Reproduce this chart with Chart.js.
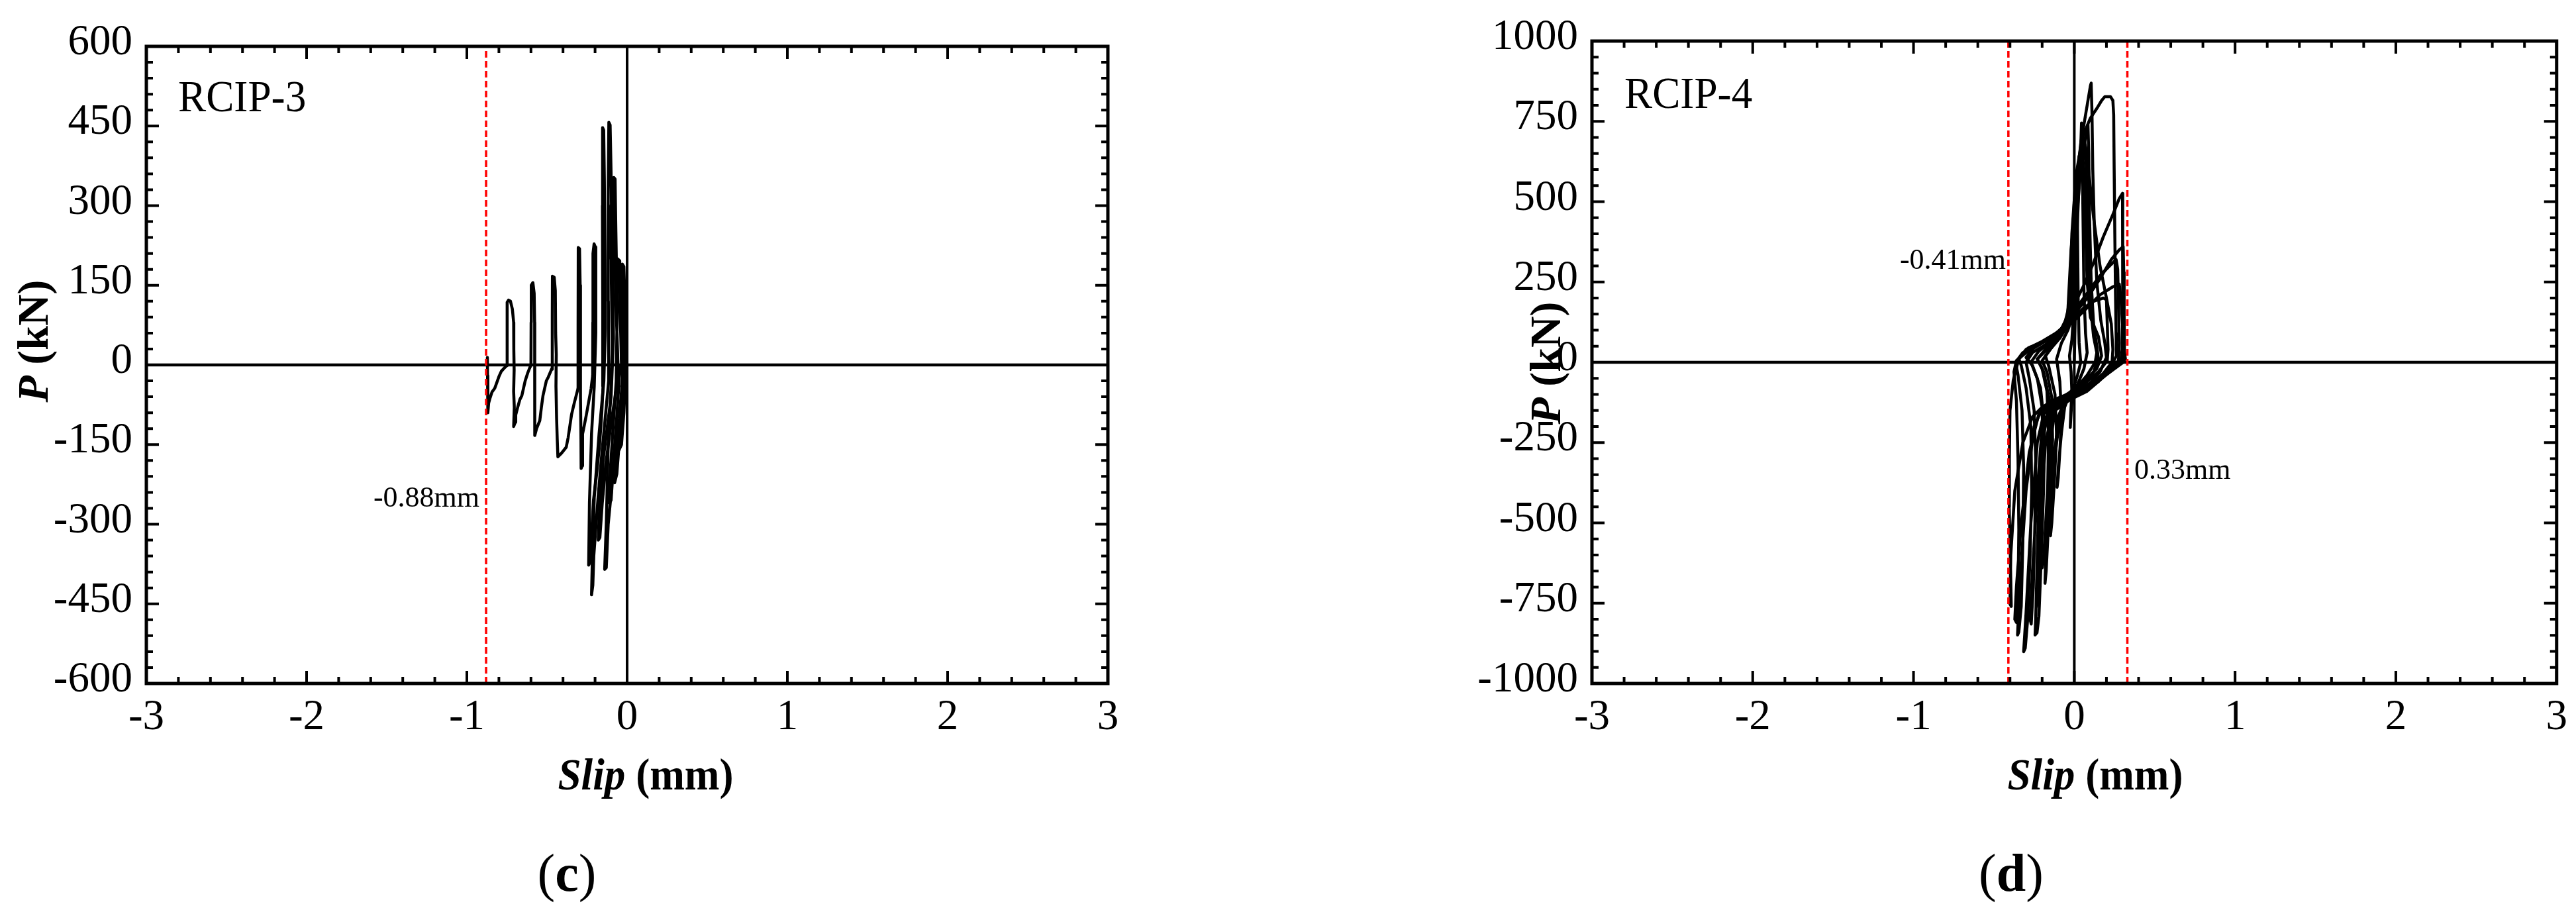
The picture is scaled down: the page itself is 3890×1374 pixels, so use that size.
<!DOCTYPE html>
<html><head><meta charset="utf-8">
<script src="https://cdn.jsdelivr.net/npm/chart.js@4.4.1/dist/chart.umd.min.js"></script>
<style>
html,body{margin:0;padding:0;background:#fff;width:3890px;height:1374px;overflow:hidden}
canvas{position:absolute;top:0}
#c3{left:0}
#c4{left:1945px}
</style></head><body>
<canvas id="c3" width="1945" height="1374"></canvas>
<canvas id="c4" width="1945" height="1374"></canvas>
<script>
// ---------- tick labels ----------
const xTicks = [-3, -2, -1, 0, 1, 2, 3];
const yTicks3 = [-600, -450, -300, -150, 0, 150, 300, 450, 600];
const yTicks4 = [-1000, -750, -500, -250, 0, 250, 500, 750, 1000];

// ---------- limit slips (red dashed lines) ----------
const limits3 = [-0.88];
const limits4 = [-0.41, 0.33];
const limitLabels3 = ['-0.88mm'];
const limitLabels4 = ['-0.41mm', '0.33mm'];

// ---------- RCIP-3 : slip (mm), load (kN) per cycle ----------
const r3c1 = [[-0.872,0],[-0.872,14],[-0.871,-20],[-0.869,-90],[-0.864,-72],[-0.855,-62],[-0.843,-51],[-0.826,-44],[-0.814,-34],[-0.800,-22],[-0.785,-12],[-0.764,-5],[-0.750,-1]];
const r3c2 = [[-0.750,-1],[-0.749,60],[-0.748,118],[-0.740,122],[-0.728,120],[-0.716,105],[-0.708,80],[-0.707,30],[-0.705,-10],[-0.708,-50],[-0.704,-80],[-0.708,-116],[-0.698,-108],[-0.695,-94],[-0.683,-80],[-0.669,-65],[-0.657,-58],[-0.636,-30],[-0.620,-15],[-0.607,-5]];
const r3c3 = [[-0.607,-5],[-0.600,0],[-0.599,80],[-0.598,150],[-0.588,155],[-0.580,135],[-0.577,80],[-0.576,20],[-0.578,-40],[-0.575,-90],[-0.576,-133],[-0.565,-120],[-0.545,-105],[-0.535,-80],[-0.525,-58],[-0.504,-30],[-0.492,-23],[-0.471,-8]];
const r3c4 = [[-0.471,-8],[-0.467,0],[-0.467,90],[-0.466,167],[-0.455,165],[-0.448,140],[-0.446,60],[-0.442,20],[-0.444,-40],[-0.440,-100],[-0.436,-140],[-0.432,-173],[-0.409,-166],[-0.380,-155],[-0.368,-137],[-0.347,-94],[-0.330,-72],[-0.318,-58],[-0.306,-44]];
const r3c5 = [[-0.306,-44],[-0.306,60],[-0.305,221],[-0.297,219],[-0.293,150],[-0.292,50],[-0.290,-60],[-0.288,-140],[-0.287,-195],[-0.280,-190],[-0.278,-130],[-0.268,-115],[-0.255,-95],[-0.240,-70],[-0.225,-45],[-0.215,-20]];
const r3c6 = [[-0.215,-20],[-0.214,80],[-0.213,210],[-0.206,228],[-0.198,222],[-0.196,150],[-0.195,60],[-0.205,-40],[-0.222,-130],[-0.235,-260],[-0.240,-377],[-0.232,-372],[-0.222,-320],[-0.210,-255],[-0.190,-205],[-0.172,-150],[-0.158,-90],[-0.150,-40]];
const r3c7 = [[-0.150,-40],[-0.152,100],[-0.154,300],[-0.153,447],[-0.146,442],[-0.142,350],[-0.138,200],[-0.136,70],[-0.145,-30],[-0.175,-130],[-0.205,-250],[-0.218,-380],[-0.222,-433],[-0.214,-415],[-0.208,-360],[-0.196,-310],[-0.180,-245],[-0.160,-175],[-0.135,-95],[-0.115,-30]];
const r3c8 = [[-0.115,-30],[-0.117,120],[-0.118,330],[-0.114,457],[-0.106,452],[-0.100,360],[-0.094,200],[-0.090,60],[-0.100,-40],[-0.118,-150],[-0.130,-300],[-0.140,-385],[-0.130,-382],[-0.118,-300],[-0.100,-244],[-0.085,-180],[-0.065,-100],[-0.052,-40]];
const r3c9 = [[-0.052,-40],[-0.068,100],[-0.082,260],[-0.083,353],[-0.075,350],[-0.070,250],[-0.062,100],[-0.068,-30],[-0.088,-120],[-0.105,-200],[-0.112,-260],[-0.100,-255],[-0.088,-200],[-0.070,-150],[-0.050,-100],[-0.032,-40]];
const r3c10 = [[-0.032,-40],[-0.040,60],[-0.050,150],[-0.060,200],[-0.046,196],[-0.036,120],[-0.026,40],[-0.030,-50],[-0.058,-150],[-0.078,-222],[-0.064,-205],[-0.045,-130],[-0.022,-50],[-0.014,0]];
const r3c11 = [[-0.014,0],[-0.020,90],[-0.025,150],[-0.030,190],[-0.020,185],[-0.012,100],[-0.008,20],[-0.015,-60],[-0.040,-130],[-0.050,-160],[-0.035,-150],[-0.020,-90],[-0.010,-20],[-0.005,0]];
const r3c12 = [[-0.090,0],[-0.095,80],[-0.100,200],[-0.102,300],[-0.095,295],[-0.090,200],[-0.085,50],[-0.100,-60],[-0.150,-180],[-0.175,-290],[-0.180,-330],[-0.170,-325],[-0.155,-260],[-0.130,-180],[-0.100,-110],[-0.070,-50],[-0.040,0]];

// ---------- RCIP-4 : slip (mm), load (kN) per cycle ----------
const r4c1 = [[0.000,0],[0.005,120],[0.010,320],[0.016,570],[0.020,420],[0.024,200],[0.030,60],[0.040,0],[0.020,-40],[-0.005,-80],[-0.018,-140],[-0.025,-203],[-0.022,-160],[-0.015,-90],[-0.020,-30],[-0.030,20],[-0.015,70],[-0.010,110]];
const r4c2 = [[-0.010,110],[0.000,200],[0.015,380],[0.030,560],[0.042,700],[0.045,745],[0.050,620],[0.055,420],[0.060,220],[0.070,90],[0.080,30],[0.060,-20],[0.020,-70],[-0.030,-100],[-0.060,-140],[-0.080,-220],[-0.100,-330],[-0.107,-389],[-0.100,-360],[-0.088,-260],[-0.080,-160],[-0.090,-60],[-0.110,10],[-0.080,60],[-0.040,100],[-0.020,130]];
const r4c3 = [[-0.020,130],[-0.010,230],[0.010,420],[0.040,600],[0.070,700],[0.085,740],[0.090,650],[0.095,450],[0.105,250],[0.120,120],[0.140,50],[0.150,10],[0.120,-30],[0.060,-70],[0.000,-95],[-0.060,-120],[-0.100,-170],[-0.120,-280],[-0.140,-440],[-0.148,-540],[-0.140,-500],[-0.125,-380],[-0.110,-230],[-0.120,-100],[-0.160,-10],[-0.180,20],[-0.120,60],[-0.060,100],[-0.030,150]];
const r4c4 = [[-0.030,150],[-0.020,300],[0.000,500],[0.040,680],[0.080,800],[0.100,860],[0.105,869],[0.110,780],[0.115,600],[0.125,420],[0.140,250],[0.165,130],[0.190,60],[0.200,15],[0.160,-30],[0.090,-70],[0.020,-100],[-0.050,-125],[-0.120,-150],[-0.150,-250],[-0.170,-450],[-0.182,-688],[-0.175,-650],[-0.160,-500],[-0.145,-300],[-0.150,-130],[-0.190,-30],[-0.230,10],[-0.180,40],[-0.100,80],[-0.050,120]];
const r4c5 = [[-0.050,120],[-0.030,200],[-0.015,400],[0.010,580],[0.050,700],[0.100,760],[0.140,790],[0.170,815],[0.190,827],[0.225,827],[0.240,815],[0.245,770],[0.248,600],[0.252,400],[0.256,220],[0.260,90],[0.262,20],[0.220,-20],[0.150,-60],[0.080,-90],[0.000,-110],[-0.080,-130],[-0.160,-150],[-0.200,-250],[-0.225,-500],[-0.240,-800],[-0.244,-849],[-0.232,-842],[-0.220,-790],[-0.205,-600],[-0.190,-380],[-0.185,-200],[-0.210,-80],[-0.260,-10],[-0.300,15],[-0.250,45],[-0.150,75],[-0.080,105]];
const r4c6 = [[-0.080,105],[-0.040,140],[0.000,180],[0.060,240],[0.120,310],[0.180,390],[0.240,460],[0.280,510],[0.300,526],[0.302,450],[0.302,300],[0.300,150],[0.298,40],[0.290,5],[0.230,-25],[0.150,-60],[0.060,-90],[-0.030,-115],[-0.120,-135],[-0.190,-160],[-0.230,-250],[-0.270,-500],[-0.300,-780],[-0.315,-901],[-0.305,-890],[-0.290,-800],[-0.275,-600],[-0.265,-400],[-0.270,-200],[-0.300,-80],[-0.330,-10],[-0.345,10],[-0.300,40],[-0.200,65],[-0.100,95]];
const r4c7 = [[-0.100,95],[-0.050,120],[0.000,150],[0.080,200],[0.160,260],[0.230,320],[0.280,350],[0.304,360],[0.308,280],[0.310,150],[0.312,40],[0.305,0],[0.250,-20],[0.170,-50],[0.080,-80],[-0.020,-105],[-0.120,-125],[-0.200,-145],[-0.250,-200],[-0.300,-400],[-0.340,-700],[-0.353,-849],[-0.345,-840],[-0.330,-760],[-0.320,-560],[-0.315,-330],[-0.325,-150],[-0.350,-40],[-0.365,0],[-0.320,30],[-0.220,55],[-0.120,85]];
const r4c8 = [[-0.120,85],[-0.060,105],[0.000,130],[0.080,170],[0.160,210],[0.240,235],[0.280,243],[0.290,200],[0.300,120],[0.310,40],[0.318,10],[0.260,-15],[0.180,-40],[0.080,-70],[-0.020,-95],[-0.120,-115],[-0.200,-140],[-0.260,-170],[-0.320,-250],[-0.370,-400],[-0.395,-600],[-0.400,-753],[-0.392,-760],[-0.398,-600],[-0.405,-450],[-0.404,-300],[-0.400,-150],[-0.380,-57],[-0.346,9],[-0.285,45],[-0.176,67],[-0.094,89],[-0.053,132]];
const r4c9 = [[-0.053,132],[0.000,140],[0.060,170],[0.120,190],[0.180,200],[0.200,195],[0.205,120],[0.210,40],[0.205,5],[0.150,-30],[0.080,-60],[0.000,-85],[-0.080,-110],[-0.150,-140],[-0.200,-200],[-0.230,-400],[-0.260,-650],[-0.275,-800],[-0.268,-815],[-0.255,-700],[-0.245,-500],[-0.240,-300],[-0.250,-150],[-0.280,-50],[-0.300,0],[-0.260,30],[-0.180,55],[-0.100,85],[-0.050,110]];
const r4c10 = [[-0.050,110],[-0.030,200],[-0.010,380],[0.020,520],[0.050,620],[0.070,670],[0.075,600],[0.080,450],[0.090,300],[0.100,180],[0.120,80],[0.140,30],[0.130,0],[0.080,-40],[0.020,-75],[-0.040,-100],[-0.080,-140],[-0.110,-250],[-0.150,-420],[-0.190,-600],[-0.200,-640],[-0.192,-620],[-0.180,-520],[-0.165,-380],[-0.160,-220],[-0.170,-90],[-0.200,-20],[-0.230,10],[-0.160,45],[-0.090,80],[-0.040,120]];
const r4c11 = [[-0.040,120],[-0.020,260],[0.000,450],[0.030,640],[0.060,700],[0.080,640],[0.120,450],[0.160,300],[0.200,200],[0.230,120],[0.240,40],[0.235,0],[0.180,-35],[0.100,-70],[0.020,-95],[-0.060,-120],[-0.140,-150],[-0.180,-260],[-0.210,-480],[-0.230,-700],[-0.235,-760],[-0.225,-740],[-0.210,-640],[-0.200,-460],[-0.195,-280],[-0.200,-140],[-0.230,-50],[-0.270,0],[-0.220,35],[-0.140,65],[-0.070,100]];
const r4c12 = [[-0.070,100],[-0.040,160],[-0.020,350],[0.020,560],[0.050,650],[0.060,600],[0.070,420],[0.080,250],[0.100,140],[0.150,80],[0.170,20],[0.140,-20],[0.070,-55],[0.000,-80],[-0.060,-110],[-0.100,-180],[-0.130,-320],[-0.160,-470],[-0.170,-520],[-0.160,-490],[-0.145,-380],[-0.135,-240],[-0.140,-110],[-0.170,-30],[-0.200,5],[-0.150,40],[-0.090,75],[-0.045,110]];
const r4c13 = [[-0.045,110],[0.000,160],[0.080,215],[0.160,270],[0.220,300],[0.260,320],[0.270,290],[0.275,180],[0.280,60],[0.275,5],[0.220,-25],[0.140,-55],[0.050,-85],[-0.040,-110],[-0.130,-130],[-0.220,-160],[-0.280,-280],[-0.330,-500],[-0.360,-700],[-0.370,-800],[-0.360,-810],[-0.350,-720],[-0.345,-520],[-0.350,-300],[-0.360,-120],[-0.375,-30],[-0.360,5],[-0.300,30],[-0.200,60],[-0.100,90]];

const cycles3 = [r3c1, r3c2, r3c3, r3c4, r3c5, r3c6, r3c7, r3c8, r3c9, r3c10, r3c11, r3c12];
const cycles4 = [r4c1, r4c2, r4c3, r4c4, r4c5, r4c6, r4c7, r4c8, r4c9, r4c10, r4c11, r4c12, r4c13];

// ---------- helpers ----------
const SERIF = "'Liberation Serif', 'Times New Roman', serif";

function loopSets(cycles) {
  return cycles.map(c => ({
    data: c.map(p => ({x: p[0], y: p[1]})),
    showLine: true, pointRadius: 0, borderColor: '#000', borderWidth: 4.5,
    tension: 0, fill: false, borderJoinStyle: 'round', borderCapStyle: 'round'
  }));
}
function limitSets(limits, ymin, ymax) {
  return limits.map(v => ({
    data: [{x: v, y: ymin}, {x: v, y: ymax}],
    showLine: true, pointRadius: 0, borderColor: '#ff0000', borderWidth: 3.5,
    borderDash: [10, 5], fill: false
  }));
}
function zeroSets(ymin, ymax) {
  return [
    {data: [{x: xTicks[0], y: 0}, {x: xTicks[xTicks.length - 1], y: 0}], showLine: true, pointRadius: 0, borderColor: '#000', borderWidth: 4.5},
    {data: [{x: 0, y: ymin}, {x: 0, y: ymax}], showLine: true, pointRadius: 0, borderColor: '#000', borderWidth: 4}
  ];
}

const framePlugin = {
  id: 'frame',
  afterDatasetsDraw(chart) {
    const {ctx, chartArea: a} = chart;
    const xs = chart.scales.x, ys = chart.scales.y;
    ctx.save();
    ctx.strokeStyle = '#000';
    ctx.lineCap = 'butt';
    const minors = t => {
      const out = [];
      for (let i = 0; i < t.length - 1; i++)
        for (let k = 1; k < 5; k++) out.push(t[i] + k * (t[i + 1] - t[i]) / 5);
      return out;
    };
    const xt = xs.ticks.map(t => t.value), yt = ys.ticks.map(t => t.value);
    ctx.lineWidth = 4;
    const dx = (vals, len) => vals.forEach(v => {
      const p = xs.getPixelForValue(v);
      ctx.beginPath();
      ctx.moveTo(p, a.bottom); ctx.lineTo(p, a.bottom - len);
      ctx.moveTo(p, a.top); ctx.lineTo(p, a.top + len);
      ctx.stroke();
    });
    const dy = (vals, len) => vals.forEach(v => {
      const p = ys.getPixelForValue(v);
      ctx.beginPath();
      ctx.moveTo(a.left, p); ctx.lineTo(a.left + len, p);
      ctx.moveTo(a.right, p); ctx.lineTo(a.right - len, p);
      ctx.stroke();
    });
    dx(xt, 19); dx(minors(xt), 10);
    dy(yt, 19); dy(minors(yt), 10);
    ctx.lineWidth = 5;
    ctx.strokeRect(a.left, a.top, a.right - a.left, a.bottom - a.top);
    ctx.restore();
  }
};

function textPlugin(cfg) {
  return {
    id: 'texts',
    afterDraw(chart) {
      const ctx = chart.ctx, ox = cfg.ox;
      ctx.save();
      ctx.fillStyle = '#000';
      ctx.textBaseline = 'alphabetic';
      // specimen label
      ctx.save();
      ctx.translate(cfg.name[1] - ox, cfg.name[2]);
      ctx.scale(0.93, 1);
      ctx.font = '68px ' + SERIF;
      ctx.textAlign = 'left';
      ctx.fillText(cfg.name[0], 0, 0);
      ctx.restore();
      // limit labels
      ctx.font = '44px ' + SERIF;
      cfg.notes.forEach(n => {
        ctx.textAlign = n[3];
        ctx.fillText(n[0], n[1] - ox, n[2]);
      });
      ctx.textAlign = 'left';
      // x title
      const segX = [['bold italic 68px ' + SERIF, 'Slip'], ['bold 68px ' + SERIF, ' (mm)']];
      let w = 0;
      segX.forEach(s => { ctx.font = s[0]; w += ctx.measureText(s[1]).width; });
      ctx.save();
      ctx.translate(cfg.xt[0] - ox, cfg.xt[1]);
      ctx.scale(0.93, 1);
      let cx = -w / 2;
      segX.forEach(s => { ctx.font = s[0]; ctx.fillText(s[1], cx, 0); cx += ctx.measureText(s[1]).width; });
      ctx.restore();
      // y title (rotated)
      const segY = [['bold italic 66px ' + SERIF, 'P'], ['bold 66px ' + SERIF, ' (kN)']];
      w = 0;
      segY.forEach(s => { ctx.font = s[0]; w += ctx.measureText(s[1]).width; });
      ctx.save();
      ctx.translate(cfg.yt[0] - ox, cfg.yt[1]);
      ctx.rotate(-Math.PI / 2);
      cx = -w / 2;
      segY.forEach(s => { ctx.font = s[0]; ctx.fillText(s[1], cx, 0); cx += ctx.measureText(s[1]).width; });
      ctx.restore();
      // panel letter
      const segP = [['80px ' + SERIF, '('], ['bold 80px ' + SERIF, cfg.panel[0]], ['80px ' + SERIF, ')']];
      w = 0;
      segP.forEach(s => { ctx.font = s[0]; w += ctx.measureText(s[1]).width; });
      cx = cfg.panel[1] - ox - w / 2;
      segP.forEach(s => { ctx.font = s[0]; ctx.fillText(s[1], cx, cfg.panel[2]); cx += ctx.measureText(s[1]).width; });
      ctx.restore();
    }
  };
}

function makeChart(id, o) {
  return new Chart(document.getElementById(id), {
    type: 'scatter',
    data: {datasets: [...limitSets(o.limits, o.yTicks[0], o.yTicks[o.yTicks.length - 1]), ...loopSets(o.cycles), ...zeroSets(o.yTicks[0], o.yTicks[o.yTicks.length - 1])]},
    options: {
      responsive: false, animation: false, devicePixelRatio: 1,
      layout: {padding: o.padding},
      plugins: {legend: {display: false}, tooltip: {enabled: false}},
      scales: {
        x: {
          type: 'linear', min: xTicks[0], max: xTicks[xTicks.length - 1],
          afterBuildTicks: s => { s.ticks = xTicks.map(v => ({value: v})); },
          afterFit: s => { s.height = o.xh; },
          grid: {display: false, drawTicks: false}, border: {display: false},
          ticks: {font: {family: SERIF, size: 65}, color: '#000', padding: 13, maxRotation: 0, autoSkip: false, callback: v => String(v)}
        },
        y: {
          type: 'linear', min: o.yTicks[0], max: o.yTicks[o.yTicks.length - 1],
          afterBuildTicks: s => { s.ticks = o.yTicks.map(v => ({value: v})); },
          afterFit: s => { s.width = o.yw; },
          grid: {display: false, drawTicks: false}, border: {display: false},
          ticks: {font: {family: SERIF, size: 65}, color: '#000', padding: 21, labelOffset: -5, autoSkip: false, callback: v => String(v)}
        }
      }
    },
    plugins: [framePlugin, textPlugin(o.text)]
  });
}

makeChart('c3', {
  cycles: cycles3, limits: limits3, yTicks: yTicks3,
  padding: {left: 0, top: 70, right: 272, bottom: 0}, yw: 221, xh: 342,
  text: {ox: 0, name: ['RCIP-3', 269, 168],
    notes: [[limitLabels3[0], 724, 765, 'right']],
    xt: [975, 1192], yt: [72, 515], panel: ['c', 856, 1345]}
});
makeChart('c4', {
  cycles: cycles4, limits: limits4, yTicks: yTicks4,
  padding: {left: 0, top: 62, right: 24, bottom: 0}, yw: 459, xh: 342,
  text: {ox: 1945, name: ['RCIP-4', 2453, 163],
    notes: [[limitLabels4[0], 3029, 406, 'right'], [limitLabels4[1], 3223, 723, 'left']],
    xt: [3164, 1192], yt: [2356, 548], panel: ['d', 3037, 1345]}
});
</script></body></html>
